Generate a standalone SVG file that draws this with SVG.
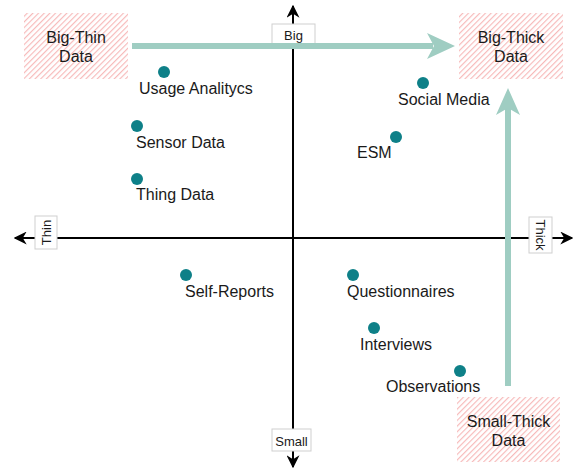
<svg xmlns="http://www.w3.org/2000/svg" width="576" height="472" viewBox="0 0 576 472">
<style>
text{font-family:"Liberation Sans",Arial,sans-serif;fill:#1a1a1a}
.lbl{font-size:16px}
.ax{font-size:13px}
.dot{fill:#0e8088}
.hatch{fill:url(#hp)}
.axbox{fill:#fff;stroke:#cfcfcf;stroke-width:1}
.axis{stroke:#000;stroke-width:2;fill:none}
.teal{stroke:#9fcdc2;stroke-width:6;fill:none}
.tealhead{fill:#9fcdc2}
</style>
<defs>
<pattern id="hp" width="4" height="4" patternUnits="userSpaceOnUse" patternTransform="rotate(45)">
<rect width="4" height="4" fill="#fff"/>
<line x1="0.5" y1="0" x2="0.5" y2="4" stroke="#f7b9b9" stroke-width="1.3"/>
</pattern>
<marker id="ah" viewBox="0 0 10 10" refX="9" refY="5" markerWidth="6.5" markerHeight="6.5" markerUnits="strokeWidth" orient="auto">
<path d="M0,0 L10,5 L0,10 L3,5 Z" fill="#000"/>
</marker>
</defs>

<g id="connectors">
<line class="axis" x1="293" y1="467" x2="293" y2="6" marker-end="url(#ah)"/>
<line class="axis" x1="293" y1="238" x2="293" y2="467" marker-end="url(#ah)"/>
<line class="axis" x1="293" y1="238" x2="15" y2="238" marker-end="url(#ah)"/>
<line class="axis" x1="293" y1="238" x2="572" y2="238" marker-end="url(#ah)"/>
</g>

<g id="axis-big"><rect class="axbox" x="272" y="24" width="43" height="22"/><text class="ax" x="293.5" y="39.5" text-anchor="middle">Big</text></g>
<g id="axis-small"><rect class="axbox" x="272" y="429" width="39" height="22"/><text class="ax" x="291.5" y="446" text-anchor="middle">Small</text></g>
<g id="axis-thin"><rect class="axbox" x="35" y="216" width="22" height="33"/><text class="ax" transform="translate(50.5,232.5) rotate(-90)" text-anchor="middle">Thin</text></g>
<g id="axis-thick"><rect class="axbox" x="529" y="217" width="23" height="36"/><text class="ax" transform="translate(536,235) rotate(90)" text-anchor="middle">Thick</text></g>

<g id="teal-arrows">
<line class="teal" x1="132" y1="46" x2="433" y2="46"/>
<path class="tealhead" d="M427,33 L455,46 L427,59 L434,46 Z"/>
<line class="teal" x1="508" y1="386" x2="508" y2="107"/>
<path class="tealhead" d="M496,115 L508,88 L520,115 L508,108 Z"/>
</g>

<g id="big-thin"><rect class="hatch" x="24" y="13" width="104" height="66"/><text class="lbl" x="76" y="43" text-anchor="middle">Big-Thin</text><text class="lbl" x="76" y="62" text-anchor="middle">Data</text></g>
<g id="big-thick"><rect class="hatch" x="459" y="13" width="104" height="66"/><text class="lbl" x="511" y="43" text-anchor="middle">Big-Thick</text><text class="lbl" x="511" y="62" text-anchor="middle">Data</text></g>
<g id="small-thick"><rect class="hatch" x="457" y="397" width="103" height="65"/><text class="lbl" x="508.5" y="427" text-anchor="middle">Small-Thick</text><text class="lbl" x="508.5" y="446" text-anchor="middle">Data</text></g>

<g id="usage"><circle class="dot" cx="164" cy="72" r="6"/><text class="lbl" x="139" y="94">Usage Analitycs</text></g>
<g id="sensor"><circle class="dot" cx="137" cy="126" r="6"/><text class="lbl" x="136" y="148">Sensor Data</text></g>
<g id="thing"><circle class="dot" cx="137" cy="179" r="6"/><text class="lbl" x="136" y="200">Thing Data</text></g>
<g id="social"><circle class="dot" cx="423" cy="83" r="6"/><text class="lbl" x="398" y="105">Social Media</text></g>
<g id="esm"><circle class="dot" cx="396" cy="137" r="6"/><text class="lbl" x="357" y="158">ESM</text></g>
<g id="self"><circle class="dot" cx="186" cy="275" r="6"/><text class="lbl" x="185" y="297">Self-Reports</text></g>
<g id="quest"><circle class="dot" cx="353" cy="275" r="6"/><text class="lbl" x="347" y="297">Questionnaires</text></g>
<g id="interviews"><circle class="dot" cx="374" cy="328" r="6"/><text class="lbl" x="360" y="350">Interviews</text></g>
<g id="obs"><circle class="dot" cx="460" cy="371" r="6"/><text class="lbl" x="386" y="392">Observations</text></g>
</svg>
